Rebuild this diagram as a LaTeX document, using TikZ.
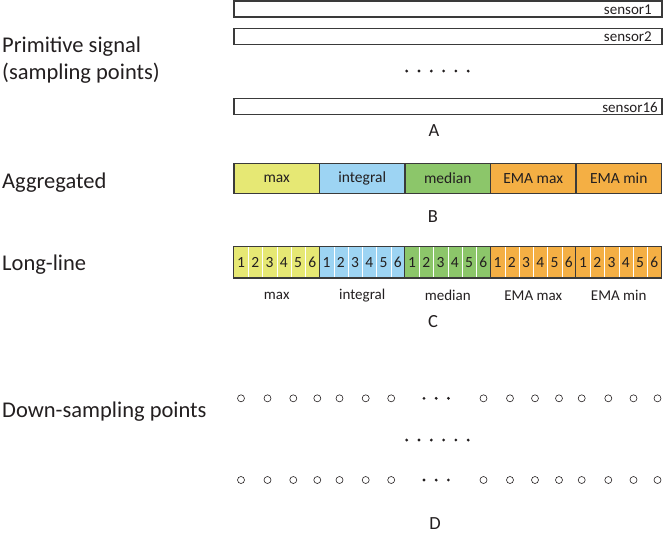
\documentclass[tikz,border=0pt]{standalone}
\usepackage{fontspec}
\setmainfont{Carlito}
\definecolor{ink}{HTML}{231F20}
\definecolor{frame}{HTML}{3A3A3A}
\definecolor{cmax}{HTML}{E6E874}
\definecolor{cint}{HTML}{9DD4F3}
\definecolor{cmed}{HTML}{8CC66A}
\definecolor{cema}{HTML}{F4AF44}
\begin{document}
\begin{tikzpicture}[x=1pt,y=-1pt,
  lbl/.style={anchor=base west, inner sep=0, text=ink, font=\fontsize{22.5}{26}\selectfont},
  sensorbar/.style={draw=frame, line width=1.3pt, minimum width=428pt, minimum height=16pt, inner sep=0},
  smalltxt/.style={inner sep=0, text=ink, font=\fontsize{15}{17}\selectfont},
  letter/.style={inner sep=0, text=ink, font=\fontsize{18.5}{20}\selectfont},
  aggbox/.style={draw=frame, line width=1.3pt, minimum width=85.5pt, minimum height=30pt, inner sep=0, text=ink, font=\fontsize{15.5}{17}\selectfont},
  cellbox/.style={minimum width=14.25pt, minimum height=31pt, inner sep=0, text=ink, font=\fontsize{15.5}{17}\selectfont},
  ring/.style={circle, draw=ink, line width=0.6pt, minimum size=7pt, inner sep=0},
  dotmark/.style={circle, fill=ink, minimum size=3.1pt, inner sep=0}
]
\useasboundingbox (0,0) rectangle (665,542);

% left labels
\node[lbl] (lprim) at (2,52) {Primitive signal};
\node[lbl] (lsamp) at (2,79) {(sampling points)};
\node[lbl] (lagg) at (2,188) {Aggregated};
\node[lbl] (llong) at (2,270) {Long-line};
\node[lbl] (ldown) at (2,417) {Down-sampling points};

% A: sensor bars
\node[sensorbar] (s1) at (448,9) {};
\node[smalltxt, anchor=east] (t1) at (652,9.5) {sensor1};
\node[sensorbar] (s2) at (448,36.5) {};
\node[smalltxt, anchor=east] (t2) at (652,37) {sensor2};
\node[sensorbar] (s16) at (448,106.5) {};
\node[smalltxt, anchor=east] (t16) at (658,107) {sensor16};
\foreach \i in {0,...,5}{
  \node[dotmark] (ad\i) at (406.7+12.3*\i,71) {};
}
\node[letter] (A) at (434,131) {A};

% B: aggregated
\foreach \g/\col/\nm in {0/cmax/max,1/cint/integral,2/cmed/median,3/cema/EMA max,4/cema/EMA min}{
  \node[aggbox, fill=\col] (b\g) at (276.75+85.5*\g,178.3) {\nm};
}
\node[letter] (B) at (433,216.5) {B};

% C: long-line
\foreach \g/\col/\nm in {0/cmax/max,1/cint/integral,2/cmed/median,3/cema/EMA max,4/cema/EMA min}{
  \foreach \k in {1,...,6}{
    \node[cellbox, fill=\col] (c\g-\k) at (234+85.5*\g+14.25*\k-7.125,262.2) {\k};
  }
  \foreach \k in {1,...,5}{
    \draw[white, line width=0.8pt] (c\g-\k.north east) -- (c\g-\k.south east);
  }
  \draw[frame, line width=1.3pt] (c\g-1.north west) rectangle (c\g-6.south east);
  \node[smalltxt] (cl\g) at (276.75+85.5*\g,295.5) {\nm};
}
\node[letter] (C) at (433,322) {C};

% D: down-sampling points
\foreach \r/\y in {1/398.3,2/480}{
  \foreach \x [count=\n] in {241,267.5,293.3,317.3,339.5,365.7,391.2,483.5,510,535,559,581.7,608.3,633.5,657.5}{
    \node[ring] (p\r-\n) at (\x,\y) {};
  }
  \foreach \x [count=\n] in {424,436.2,448.4}{
    \node[dotmark] (q\r-\n) at (\x,\y) {};
  }
}
\foreach \i in {0,...,5}{
  \node[dotmark] (dd\i) at (406.7+12.3*\i,440) {};
}
\node[letter] (D) at (435,524) {D};
\end{tikzpicture}
\end{document}
